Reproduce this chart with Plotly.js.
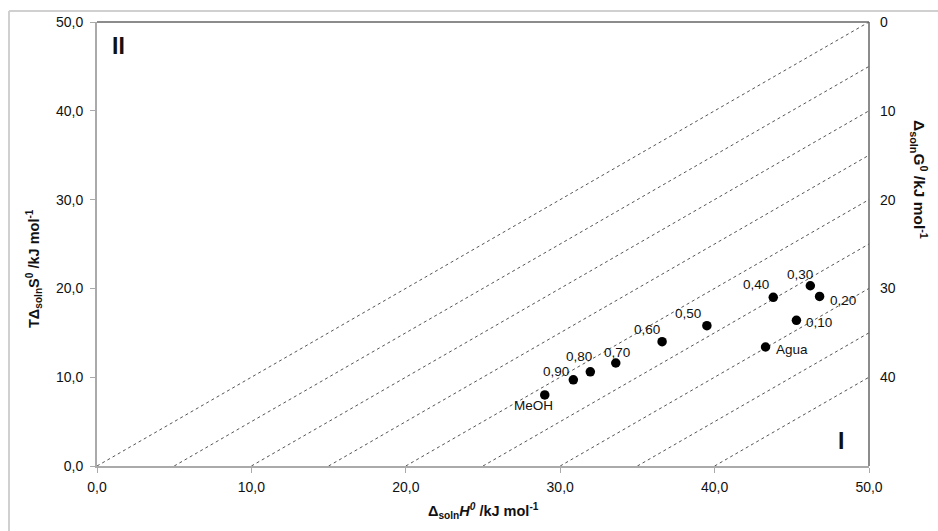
<!DOCTYPE html>
<html>
<head>
<meta charset="utf-8">
<script src="https://cdn.plot.ly/plotly-3.0.1.min.js"></script>
<style>html,body{margin:0;padding:0;background:#fff;}#chart{width:938px;height:531px;}</style>
</head>
<body>
<div id="chart"></div>
<script>
// Data
const labels = ["MeOH", "0,90", "0,80", "0,70", "0,60", "0,50", "0,40", "0,30", "0,20", "0,10", "Agua"];
const dH = [29.0, 30.85, 31.95, 33.6, 36.6, 39.5, 43.8, 46.2, 46.8, 45.3, 43.3];
const TdS = [8.0, 9.7, 10.6, 11.6, 14.0, 15.8, 19.0, 20.3, 19.1, 16.4, 13.4];
const dGLines = [0, 5, 10, 15, 20, 25, 30, 35, 40];
const xTicks = [0, 10, 20, 30, 40, 50];
const yTicks = [0, 10, 20, 30, 40, 50];
const gTicks = [0, 10, 20, 30, 40];

// label offsets (px) for point labels
const labelDx = [-11, -17, -11, 1, -15, -19, -17, -10, 23, 23, 26];
const labelDy = [11, -8, -15, -10, -12, -12, -13, -11, 4, 2, 2];

const FONT = "Liberation Sans, Arial, sans-serif";
const NARROW = "Liberation Sans Narrow, Arial Narrow, Liberation Sans, sans-serif";
const traces = [];
dGLines.forEach(g => {
  traces.push({
    x: [g, 50], y: [0, 50 - g], mode: "lines", type: "scatter",
    line: {color: "#555", width: 1, dash: "3px,3px"},
    hoverinfo: "skip", showlegend: false
  });
});
traces.push({
  x: dH, y: TdS, mode: "markers", type: "scatter",
  marker: {color: "#000", size: 9.5}, showlegend: false
});
traces.push({
  x: [0, 50], y: [50, 0], yaxis: "y2", mode: "markers", type: "scatter",
  marker: {opacity: 0}, hoverinfo: "skip", showlegend: false
});

const annotations = labels.map((t, i) => ({
  x: dH[i], y: TdS[i], xref: "x", yref: "y", text: t, showarrow: false,
  xanchor: "center", yanchor: "middle",
  xshift: labelDx[i], yshift: -labelDy[i],
  font: {family: FONT, size: 13.5, color: "#111"}
}));
const pa = (px, py, text, size, angle, fam) => ({
  xref: "paper", yref: "paper", x: (px - 97) / 772, y: (466 - py) / 444,
  xanchor: "center", yanchor: "middle", textangle: angle || 0,
  text: text, showarrow: false, font: {family: fam || FONT, size: size, color: "#111"}
});
annotations.push(
  pa(118.5, 46, "<b>II</b>", 23, 0, NARROW),
  pa(841, 441, "<b>I</b>", 23, 0, NARROW),
  pa(483, 511, "<b>Δ<sub>soln</sub><i>H<sup>0</sup></i> /kJ mol<sup>-1</sup></b>", 14.5),
  pa(34, 269, "<b>TΔ<sub>soln</sub>S<sup>0</sup> /kJ mol<sup>-1</sup></b>", 14.5, -90),
  pa(919, 179, "<b>Δ<sub>soln</sub>G<sup>0</sup> /kJ mol<sup>-1</sup></b>", 15.5, 90)
);

const layout = {
  width: 938, height: 531,
  margin: {l: 97, r: 69, t: 22, b: 65},
  paper_bgcolor: "#fff", plot_bgcolor: "#fff",
  separators: ", ",
  showlegend: false,
  font: {family: FONT, size: 12, color: "#111"},
  xaxis: {
    range: [0, 50], tickvals: xTicks, tickformat: ".1f",
    showgrid: false, zeroline: false, showline: true, linecolor: "#aaa", linewidth: 2,
    ticks: "outside", ticklen: 5, tickcolor: "#aaa", tickwidth: 1,
    ticklabelstandoff: 2,
    tickfont: {family: FONT, size: 14, color: "#111"}, fixedrange: true
  },
  yaxis: {
    range: [0, 50], tickvals: yTicks, tickformat: ".1f",
    showgrid: false, zeroline: false, showline: true, linecolor: "#aaa", linewidth: 2,
    ticks: "outside", ticklen: 5, tickcolor: "#aaa", tickwidth: 1,
    ticklabelstandoff: 4,
    tickfont: {family: FONT, size: 14, color: "#111"}, fixedrange: true
  },
  yaxis2: {
    overlaying: "y", side: "right", range: [50, 0], tickvals: gTicks,
    showgrid: false, zeroline: false, showline: false, ticks: "",
    ticklabelstandoff: 10,
    tickfont: {family: FONT, size: 14, color: "#111"}, fixedrange: true
  },
  shapes: [
    {type: "line", xref: "paper", yref: "paper", x0: 0, x1: 1, y0: 1, y1: 1,
     line: {color: "#666", width: 1.5}},
    {type: "line", xref: "paper", yref: "paper", x0: 1, x1: 1, y0: 0, y1: 1,
     line: {color: "#666", width: 1.5}},
    {type: "line", xref: "paper", yref: "paper", x0: -88 / 772, x1: 841 / 772,
     y0: 1 + 11 / 444, y1: 1 + 11 / 444, line: {color: "#d0d0d0", width: 2}},
    {type: "line", xref: "paper", yref: "paper", x0: -88 / 772, x1: -88 / 772,
     y0: 1 + 11 / 444, y1: -65 / 444, line: {color: "#d0d0d0", width: 2}}
  ],
  annotations: annotations
};

Plotly.newPlot("chart", traces, layout, {displayModeBar: false, staticPlot: true});
</script>
</body>
</html>
